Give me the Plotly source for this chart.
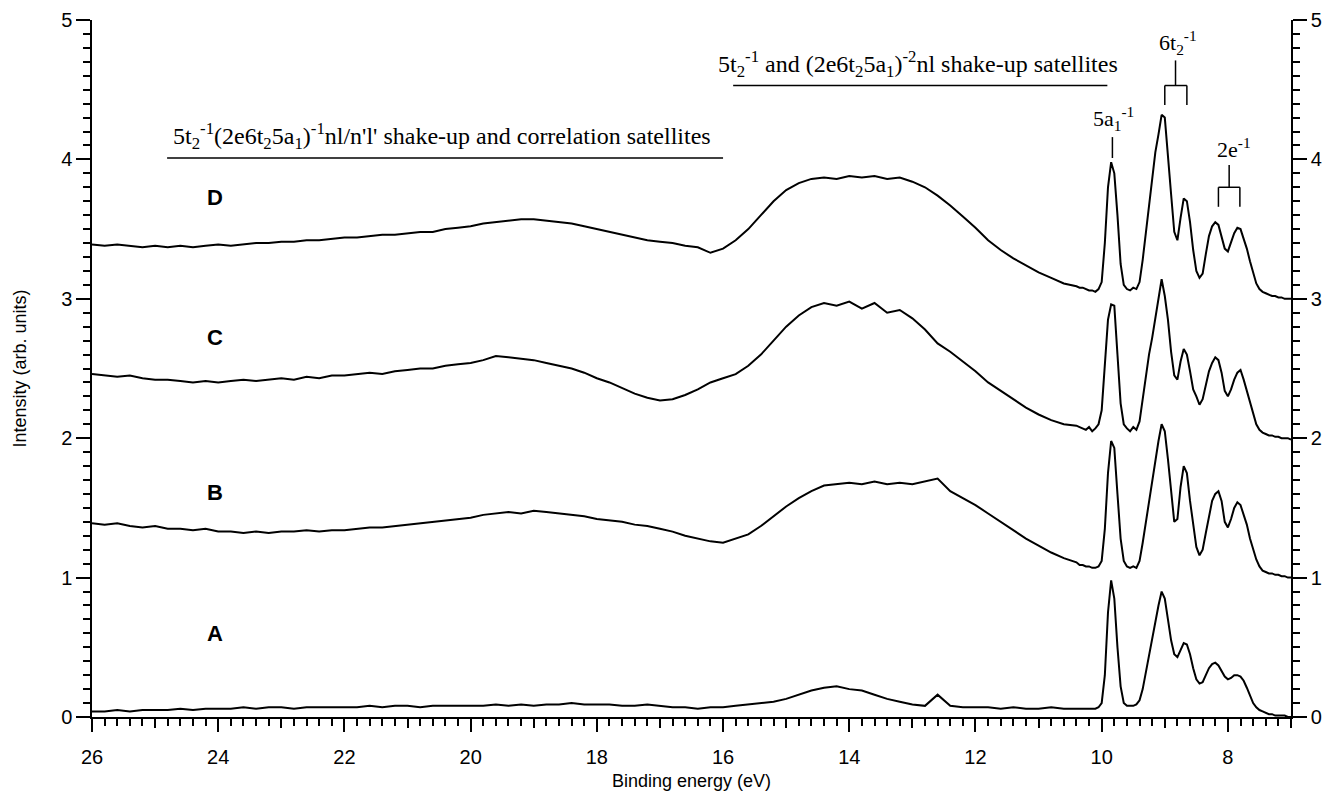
#photoelectron spectra A-D, offset by 1 unit each
import plotly.graph_objects as go

#%%
#binding energy grid (eV), coarse over the satellites, fine over the main lines
energy = [
    26.0, 25.8, 25.6, 25.4, 25.2, 25.0, 24.8, 24.6, 24.4, 24.2,
    24.0, 23.8, 23.6, 23.4, 23.2, 23.0, 22.8, 22.6, 22.4, 22.2,
    22.0, 21.8, 21.6, 21.4, 21.2, 21.0, 20.8, 20.6, 20.4, 20.2,
    20.0, 19.8, 19.6, 19.4, 19.2, 19.0, 18.8, 18.6, 18.4, 18.2,
    18.0, 17.8, 17.6, 17.4, 17.2, 17.0, 16.8, 16.6, 16.4, 16.2,
    16.0, 15.8, 15.6, 15.4, 15.2, 15.0, 14.8, 14.6, 14.4, 14.2,
    14.0, 13.8, 13.6, 13.4, 13.2, 13.0, 12.8, 12.6, 12.4, 12.2,
    12.0, 11.8, 11.6, 11.4, 11.2, 11.0, 10.8, 10.6, 10.4,
    10.35, 10.30, 10.25, 10.20, 10.15, 10.10, 10.05, 10.00, 9.95, 9.90,
    9.85, 9.80, 9.75, 9.70, 9.65, 9.60, 9.55, 9.50, 9.45, 9.40,
    9.35, 9.30, 9.25, 9.20, 9.15, 9.10, 9.05, 9.00, 8.95, 8.90,
    8.85, 8.80, 8.75, 8.70, 8.65, 8.60, 8.55, 8.50, 8.45, 8.40,
    8.35, 8.30, 8.25, 8.20, 8.15, 8.10, 8.05, 8.00, 7.95, 7.90,
    7.85, 7.80, 7.75, 7.70, 7.65, 7.60, 7.55, 7.50, 7.45, 7.40,
    7.35, 7.30, 7.25, 7.20, 7.15, 7.10, 7.05, 7.00,
]

spec_A = [
    0.04, 0.04, 0.05, 0.04, 0.05, 0.05, 0.05, 0.06, 0.05, 0.06,
    0.06, 0.06, 0.07, 0.06, 0.07, 0.07, 0.06, 0.07, 0.07, 0.07,
    0.07, 0.07, 0.08, 0.07, 0.08, 0.08, 0.07, 0.08, 0.08, 0.08,
    0.08, 0.08, 0.09, 0.08, 0.09, 0.08, 0.09, 0.09, 0.10, 0.09,
    0.09, 0.09, 0.08, 0.08, 0.09, 0.08, 0.07, 0.07, 0.06, 0.07,
    0.07, 0.08, 0.09, 0.10, 0.11, 0.13, 0.16, 0.19, 0.21, 0.22,
    0.20, 0.19, 0.16, 0.13, 0.11, 0.09, 0.08, 0.16, 0.08, 0.07,
    0.07, 0.07, 0.06, 0.07, 0.06, 0.06, 0.07, 0.06, 0.06,
    0.06, 0.06, 0.06, 0.06, 0.06, 0.06, 0.07, 0.10, 0.30, 0.75,
    0.98, 0.85, 0.50, 0.22, 0.10, 0.08, 0.08, 0.08, 0.09, 0.12,
    0.20, 0.32, 0.45, 0.58, 0.70, 0.80, 0.90, 0.85, 0.70, 0.55,
    0.45, 0.43, 0.48, 0.53, 0.52, 0.45, 0.35, 0.27, 0.24, 0.25,
    0.30, 0.35, 0.38, 0.39, 0.37, 0.33, 0.29, 0.27, 0.28, 0.30,
    0.30, 0.29, 0.26, 0.21, 0.15, 0.10, 0.07, 0.05, 0.04, 0.03,
    0.02, 0.02, 0.01, 0.01, 0.01, 0.01, 0.00, 0.00,
]

spec_B = [
    1.39, 1.38, 1.39, 1.37, 1.36, 1.37, 1.35, 1.35, 1.34, 1.35,
    1.33, 1.33, 1.32, 1.33, 1.32, 1.33, 1.33, 1.34, 1.33, 1.34,
    1.34, 1.35, 1.36, 1.36, 1.37, 1.38, 1.39, 1.40, 1.41, 1.42,
    1.43, 1.45, 1.46, 1.47, 1.46, 1.48, 1.47, 1.46, 1.45, 1.44,
    1.42, 1.41, 1.40, 1.38, 1.37, 1.35, 1.33, 1.30, 1.28, 1.26,
    1.25, 1.28, 1.31, 1.37, 1.44, 1.51, 1.57, 1.62, 1.66, 1.67,
    1.68, 1.67, 1.69, 1.67, 1.68, 1.67, 1.69, 1.71, 1.62, 1.57,
    1.52, 1.46, 1.40, 1.34, 1.28, 1.23, 1.18, 1.14, 1.11,
    1.09, 1.09, 1.08, 1.08, 1.07, 1.07, 1.08, 1.12, 1.35, 1.75,
    1.98, 1.93, 1.60, 1.28, 1.12, 1.08, 1.07, 1.08, 1.07, 1.12,
    1.25, 1.40, 1.55, 1.70, 1.85, 1.98, 2.10, 2.05, 1.85, 1.60,
    1.40, 1.42, 1.65, 1.80, 1.75, 1.55, 1.38, 1.22, 1.16, 1.20,
    1.32, 1.45, 1.55, 1.60, 1.62, 1.55, 1.40, 1.36, 1.42, 1.50,
    1.54, 1.52, 1.45, 1.38, 1.28, 1.20, 1.13, 1.08, 1.05, 1.04,
    1.03, 1.03, 1.02, 1.02, 1.01, 1.01, 1.00, 1.00,
]

spec_C = [
    2.46, 2.45, 2.44, 2.45, 2.43, 2.42, 2.42, 2.41, 2.40, 2.41,
    2.40, 2.41, 2.42, 2.41, 2.42, 2.43, 2.42, 2.44, 2.43, 2.45,
    2.45, 2.46, 2.47, 2.46, 2.48, 2.49, 2.50, 2.50, 2.52, 2.53,
    2.54, 2.56, 2.59, 2.58, 2.57, 2.56, 2.54, 2.52, 2.50, 2.47,
    2.43, 2.40, 2.36, 2.32, 2.29, 2.27, 2.28, 2.31, 2.35, 2.40,
    2.43, 2.46, 2.52, 2.60, 2.70, 2.80, 2.88, 2.94, 2.97, 2.95,
    2.98, 2.93, 2.97, 2.90, 2.92, 2.86, 2.78, 2.68, 2.62, 2.55,
    2.48, 2.40, 2.34, 2.28, 2.22, 2.17, 2.13, 2.10, 2.09,
    2.08, 2.07, 2.06, 2.08, 2.05, 2.07, 2.10, 2.20, 2.50, 2.85,
    2.96, 2.95, 2.60, 2.25, 2.10, 2.07, 2.05, 2.08, 2.06, 2.12,
    2.28, 2.45, 2.60, 2.72, 2.85, 2.98, 3.14, 3.02, 2.85, 2.62,
    2.45, 2.42, 2.55, 2.64, 2.60, 2.48, 2.35, 2.30, 2.24, 2.28,
    2.38, 2.48, 2.54, 2.58, 2.56, 2.47, 2.34, 2.30, 2.35, 2.42,
    2.47, 2.49, 2.42, 2.34, 2.25, 2.17, 2.10, 2.06, 2.04, 2.03,
    2.02, 2.02, 2.01, 2.01, 2.00, 2.00, 2.00, 1.99,
]

spec_D = [
    3.39, 3.38, 3.39, 3.38, 3.37, 3.38, 3.37, 3.38, 3.37, 3.38,
    3.39, 3.38, 3.39, 3.40, 3.40, 3.41, 3.41, 3.42, 3.42, 3.43,
    3.44, 3.44, 3.45, 3.46, 3.46, 3.47, 3.48, 3.48, 3.50, 3.51,
    3.52, 3.54, 3.55, 3.56, 3.57, 3.57, 3.56, 3.55, 3.54, 3.52,
    3.50, 3.48, 3.46, 3.44, 3.42, 3.41, 3.40, 3.38, 3.37, 3.33,
    3.36, 3.42, 3.50, 3.60, 3.70, 3.78, 3.83, 3.86, 3.87, 3.86,
    3.88, 3.87, 3.88, 3.86, 3.87, 3.84, 3.80, 3.74, 3.67, 3.59,
    3.51, 3.42, 3.35, 3.29, 3.24, 3.19, 3.15, 3.11, 3.09,
    3.08, 3.08, 3.07, 3.06, 3.06, 3.05, 3.07, 3.12, 3.40, 3.80,
    3.98, 3.90, 3.60, 3.25, 3.10, 3.07, 3.06, 3.08, 3.07, 3.12,
    3.28, 3.48, 3.68, 3.88, 4.05, 4.18, 4.32, 4.30, 4.05, 3.75,
    3.48, 3.42, 3.58, 3.72, 3.70, 3.55, 3.35, 3.20, 3.15, 3.18,
    3.32, 3.45, 3.52, 3.55, 3.53, 3.44, 3.36, 3.34, 3.40, 3.47,
    3.51, 3.50, 3.43, 3.36, 3.27, 3.18, 3.11, 3.07, 3.05, 3.04,
    3.03, 3.02, 3.02, 3.01, 3.01, 3.00, 3.00, 3.00,
]

spectra = {"A": spec_A, "B": spec_B, "C": spec_C, "D": spec_D}
label_y = {"A": 0.60, "B": 1.61, "C": 2.72, "D": 3.73}
label_x = 24.05

x_ticks = [26, 24, 22, 20, 18, 16, 14, 12, 10, 8]
x_odd_ticks = [25, 23, 21, 19, 17, 15, 13, 11, 9, 7]
y_ticks = [0, 1, 2, 3, 4, 5]

#%%
serif = "Liberation Serif, Times New Roman, serif"
sans = "Liberation Sans, Arial, sans-serif"

fig = go.Figure()
for name, vals in spectra.items():
    fig.add_trace(go.Scatter(x=energy, y=vals, mode="lines", name=name,
                             line=dict(color="black", width=2), showlegend=False))

#dummy trace so the right axis and the odd-integer tick axis get drawn
fig.add_trace(go.Scatter(x=[None], y=[None], xaxis="x2", yaxis="y2",
                         showlegend=False, hoverinfo="skip"))

#%%
axis_common = dict(showgrid=False, zeroline=False, showline=True, linecolor="black",
                   linewidth=1.5, ticks="outside", tickcolor="black", tickwidth=1.5,
                   automargin=False, ticklabeloverflow="allow")
y_minor = dict(dtick=0.1, tick0=0, ticklen=7, ticks="outside", tickcolor="black", tickwidth=1.5)

#page body has an 8px margin, so the figure is 8px smaller than the window
fig.update_layout(
    template="none",
    width=1330, height=791,
    margin=dict(l=84, r=47, t=12, b=82),
    paper_bgcolor="white", plot_bgcolor="white",
    font=dict(family=sans, color="black"),
    xaxis=dict(axis_common, range=[26, 7], tickvals=x_ticks, ticklen=13,
               tickfont=dict(size=20), ticklabelstandoff=8,
               minor=dict(dtick=0.2, tick0=0, ticklen=7, ticks="outside",
                          tickcolor="black", tickwidth=1.5),
               title=dict(text="Binding energy (eV)", font=dict(size=18), standoff=8)),
    xaxis2=dict(overlaying="x", anchor="y", side="bottom", range=[26, 7],
                tickvals=x_odd_ticks, ticks="outside", ticklen=10, tickwidth=1.5,
                tickcolor="black", showticklabels=False, showline=False,
                showgrid=False, zeroline=False, automargin=False),
    yaxis=dict(axis_common, range=[0, 5], tickvals=y_ticks, ticklen=14,
               tickfont=dict(size=20), minor=y_minor,
               title=dict(text="Intensity (arb. units)", font=dict(size=18), standoff=30)),
    yaxis2=dict(axis_common, overlaying="y", side="right", anchor="x", range=[0, 5],
                tickvals=y_ticks, ticklen=14, tickfont=dict(size=20), minor=y_minor),
)

#%%
#spectrum letters
for name, yv in label_y.items():
    fig.add_annotation(x=label_x, y=yv, xref="x", yref="y", text="<b>" + name + "</b>",
                       showarrow=False, font=dict(family=sans, size=22))

#satellite group labels with their underlines
line_style = dict(color="black", width=1.5)
fig.add_shape(type="line", xref="x", yref="y", x0=24.81, x1=16.0, y0=4.01, y1=4.01, line=line_style)
fig.add_annotation(x=20.45, y=4.03, xref="x", yref="y", yanchor="bottom", showarrow=False,
                   text="5t<sub>2</sub><sup>-1</sup>(2e6t<sub>2</sub>5a<sub>1</sub>)<sup>-1</sup>nl/n'l' shake-up and correlation satellites",
                   font=dict(family=serif, size=24))

fig.add_shape(type="line", xref="x", yref="y", x0=15.84, x1=9.91, y0=4.53, y1=4.53, line=line_style)
fig.add_annotation(x=12.91, y=4.55, xref="x", yref="y", yanchor="bottom", showarrow=False,
                   text="5t<sub>2</sub><sup>-1</sup> and (2e6t<sub>2</sub>5a<sub>1</sub>)<sup>-2</sup>nl shake-up satellites",
                   font=dict(family=serif, size=24))

#main line assignments
fig.add_shape(type="line", xref="x", yref="y", x0=9.83, x1=9.83, y0=4.01, y1=4.16, line=line_style)
fig.add_annotation(x=9.81, y=4.17, xref="x", yref="y", yanchor="bottom", showarrow=False,
                   text="5a<sub>1</sub><sup>-1</sup>", font=dict(family=serif, size=22))

for x0, x1, y0, y1 in [(9.0, 9.0, 4.39, 4.53), (9.0, 8.65, 4.53, 4.53), (8.65, 8.65, 4.53, 4.39),
                       (8.83, 8.83, 4.53, 4.71)]:
    fig.add_shape(type="line", xref="x", yref="y", x0=x0, x1=x1, y0=y0, y1=y1, line=line_style)
fig.add_annotation(x=8.79, y=4.71, xref="x", yref="y", yanchor="bottom", showarrow=False,
                   text="6t<sub>2</sub><sup>-1</sup>", font=dict(family=serif, size=22))

for x0, x1, y0, y1 in [(8.15, 8.15, 3.66, 3.80), (8.15, 7.81, 3.80, 3.80), (7.81, 7.81, 3.80, 3.66),
                       (7.98, 7.98, 3.80, 3.96)]:
    fig.add_shape(type="line", xref="x", yref="y", x0=x0, x1=x1, y0=y0, y1=y1, line=line_style)
fig.add_annotation(x=7.9, y=3.97, xref="x", yref="y", yanchor="bottom", showarrow=False,
                   text="2e<sup>-1</sup>", font=dict(family=serif, size=22))

fig.write_html("out.html")
